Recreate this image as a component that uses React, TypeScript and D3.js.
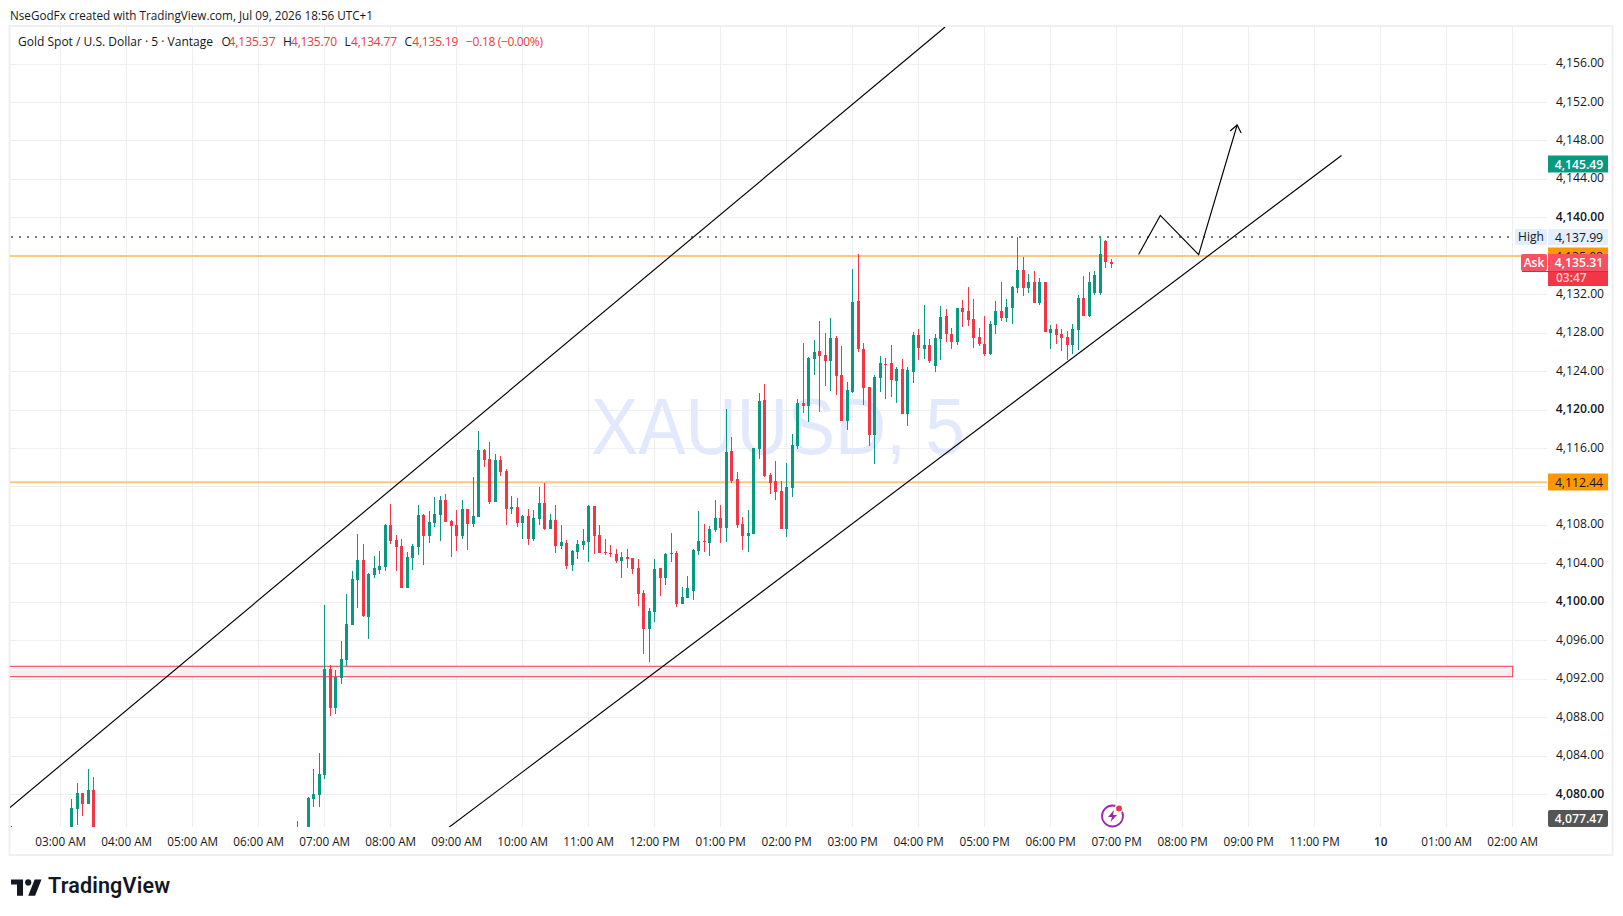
import React from 'react';
import * as d3 from 'd3';

// bar slots count 5 minute steps from 03:00 AM, -9 is the cut off wick at the left edge
const barSlots = [-9, 2, 3, 4, 5, 6, 43, ...d3.range(45, 192)];

const opens = [
  4075.5, 4076, 4078.45, 4080.11, 4078.96, 4080.42, 4075, 4076, 4079.48, 4079.9,
  4081.98, 4093.01, 4088.95, 4092.08, 4093.95, 4097.59, 4102.27, 4104.35, 4098.42, 4102.79, 4103.31, 4103.62,
  4107.99, 4106.43, 4105.81, 4101.43, 4104.56, 4105.7, 4109.03, 4106.84, 4108.2, 4109.03, 4110.59, 4108.4,
  4107.99, 4106.84, 4109.65, 4108.09, 4108.82, 4115.79, 4114.85, 4110.38, 4114.75, 4113.6, 4109.65, 4109.86,
  4108.2, 4108.92, 4106.53, 4108.61, 4110.28, 4107.57, 4108.51, 4105.81, 4106.12, 4103.83, 4105.18, 4105.91,
  4106.22, 4109.97, 4106.95, 4105.18, 4105.08, 4104.97, 4104.25, 4104.66, 4104.56, 4103.52, 4100.92, 4097.17,
  4098.94, 4103.52, 4102.48, 4104.97, 4105.08, 4099.77, 4100.39, 4101.12, 4105.29, 4106.33, 4106.12, 4107.47,
  4108.72, 4107.68, 4115.69, 4112.77, 4108.09, 4106.84, 4107.05, 4115.9, 4120.99, 4113.19, 4112.57, 4111.53,
  4107.57, 4111.84, 4116.21, 4120.68, 4120.37, 4125.26, 4126.1, 4125.68, 4125.06, 4127.45, 4123.6, 4118.81,
  4121.82, 4131.3, 4126.3, 4122.34, 4117.35, 4123.29, 4124.75, 4124.85, 4122.98, 4124.22, 4119.53, 4123.91,
  4127.76, 4126.3, 4126.72, 4124.53, 4127.34, 4129.74, 4127.86, 4127.03, 4130.56, 4130.26, 4129.42, 4127.55,
  4126.82, 4125.78, 4128.8, 4130.26, 4129.53, 4130.56, 4132.65, 4134.52, 4132.65, 4133.27, 4131.09, 4133.27,
  4127.97, 4128.38, 4127.86, 4127.55, 4126.72, 4128.28, 4131.61, 4129.74, 4132.13, 4132.13, 4137.54, 4135.37,
];

const highs = [
  4076.68, 4079.48, 4081.15, 4080.11, 4082.6, 4081.77, 4077.2, 4079.69, 4082.6, 4084.27,
  4099.67, 4093.43, 4092.91, 4095.93, 4100.81, 4103.21, 4107.05, 4106.01, 4103, 4104.77, 4105.29, 4108.09,
  4110.17, 4106.95, 4106.53, 4105.18, 4106.01, 4110.07, 4109.13, 4109.44, 4110.9, 4111.01, 4111.21, 4108.51,
  4109.55, 4110.59, 4109.65, 4112.98, 4117.77, 4115.9, 4116.63, 4115.38, 4115.17, 4113.81, 4111.01, 4110.8,
  4109.03, 4109.65, 4109.55, 4111.94, 4112.36, 4109.13, 4110.07, 4107.99, 4106.43, 4105.39, 4106.43, 4107.57,
  4110.07, 4109.97, 4107.99, 4106.53, 4105.91, 4105.49, 4105.18, 4105.49, 4104.56, 4104.45, 4101.23, 4099.36,
  4104.46, 4103.52, 4105.08, 4107.16, 4105.29, 4101.54, 4102.69, 4105.49, 4109.44, 4108.09, 4107.89, 4110.59,
  4110.07, 4120.05, 4117.14, 4113.5, 4108.82, 4109.55, 4116, 4121.72, 4122.66, 4113.4, 4114.65, 4112.57,
  4114.44, 4117.45, 4121.09, 4126.93, 4125.47, 4127.24, 4129.22, 4127.97, 4129.53, 4127.66, 4126.62, 4122.87,
  4134.62, 4136.18, 4126.93, 4122.34, 4123.6, 4125.58, 4125.37, 4126.72, 4124.43, 4125.26, 4124.43, 4128.07,
  4128.38, 4130.87, 4127.34, 4127.86, 4130.77, 4130.46, 4128.48, 4130.56, 4131.4, 4132.75, 4131.5, 4128.48,
  4129.74, 4129.22, 4131.3, 4133.27, 4131.5, 4132.85, 4137.99, 4135.87, 4134.1, 4134.41, 4133.69, 4133.27,
  4128.8, 4128.9, 4128.38, 4128.17, 4128.9, 4131.92, 4133.91, 4134.31, 4134.41, 4137.99, 4137.64, 4135.7,
];

const lows = [
  4075, 4075.5, 4076.78, 4077.72, 4078.96, 4075, 4074.8, 4075, 4078.65, 4078.65,
  4081.56, 4088.12, 4088.32, 4091.45, 4093.33, 4097.59, 4099.36, 4098.42, 4096.13, 4102.48, 4102.89, 4103.21,
  4106.01, 4103.21, 4101.43, 4101.43, 4103.31, 4104.87, 4103.83, 4106.12, 4107.78, 4106.33, 4108.3, 4104.66,
  4105.29, 4106.53, 4105.39, 4107.78, 4108.82, 4114.02, 4110.17, 4110.38, 4113.09, 4107.99, 4109.13, 4107.78,
  4106.53, 4105.91, 4106.33, 4107.99, 4107.47, 4107.57, 4105.08, 4105.49, 4103.41, 4103.21, 4104.46, 4105.39,
  4104.14, 4104.97, 4105.08, 4104.87, 4104.66, 4104.04, 4102.48, 4103.52, 4102.89, 4099.57, 4094.57, 4093.74,
  4097.9, 4100.6, 4101.75, 4104.14, 4099.46, 4099.77, 4100.39, 4100.19, 4104.87, 4105.18, 4104.77, 4107.26,
  4106.12, 4106.22, 4112.36, 4107.68, 4105.39, 4105.18, 4107.05, 4114.85, 4112.98, 4111.21, 4110.59, 4107.57,
  4106.74, 4110.9, 4115.9, 4119.64, 4118.7, 4123.6, 4119.74, 4122.45, 4121.93, 4121.51, 4118.81, 4117.87,
  4121.72, 4125.99, 4120.47, 4116.21, 4114.33, 4121.82, 4121.09, 4121.3, 4120.68, 4119.53, 4118.29, 4122.77,
  4125.16, 4125.26, 4124.85, 4123.91, 4125.16, 4127.03, 4126.3, 4126.72, 4128.59, 4128.69, 4126.41, 4126.62,
  4125.58, 4125.68, 4127.86, 4129.22, 4129.11, 4128.9, 4132.13, 4131.82, 4132.13, 4131.09, 4130.87, 4128.07,
  4126.3, 4126.82, 4126.1, 4125.16, 4125.78, 4126.2, 4129.74, 4129.63, 4131.92, 4131.92, 4134.73, 4134.77,
];

const closes = [
  4076, 4078.55, 4080.11, 4078.96, 4080.42, 4075.5, 4075.5, 4079.59, 4080, 4082.08,
  4093.01, 4088.95, 4092.18, 4094.05, 4097.69, 4102.37, 4104.35, 4098.52, 4102.89, 4103.52, 4103.73, 4107.99,
  4106.33, 4105.7, 4101.43, 4104.66, 4105.81, 4109.03, 4106.84, 4108.3, 4109.13, 4110.59, 4108.3, 4107.89,
  4106.84, 4109.65, 4108.09, 4108.92, 4115.79, 4114.75, 4110.38, 4114.75, 4113.5, 4109.65, 4109.86, 4108.2,
  4108.92, 4106.53, 4108.72, 4110.28, 4107.57, 4108.51, 4105.81, 4106.22, 4103.73, 4105.29, 4106.01, 4106.33,
  4109.97, 4106.84, 4105.08, 4105.08, 4104.97, 4104.25, 4104.66, 4104.45, 4103.41, 4100.81, 4097.17, 4099.04,
  4103.41, 4102.48, 4104.97, 4105.08, 4099.77, 4100.5, 4101.43, 4105.39, 4106.33, 4106.22, 4107.57, 4108.72,
  4107.68, 4115.58, 4112.57, 4107.99, 4106.84, 4107.16, 4116, 4120.89, 4113.09, 4112.36, 4111.42, 4107.57,
  4111.94, 4116.31, 4120.68, 4120.37, 4125.37, 4125.99, 4125.58, 4125.06, 4127.45, 4123.5, 4118.81, 4122.03,
  4131.19, 4126.3, 4122.24, 4117.35, 4123.39, 4124.85, 4124.64, 4123.08, 4124.22, 4119.53, 4124.12, 4127.76,
  4126.41, 4126.72, 4125.06, 4127.45, 4129.63, 4127.86, 4127.03, 4130.56, 4130.15, 4129.32, 4127.45, 4126.82,
  4125.78, 4128.9, 4130.26, 4129.53, 4130.67, 4132.75, 4134.52, 4132.65, 4133.27, 4131.09, 4133.27, 4128.07,
  4128.38, 4127.76, 4127.45, 4126.72, 4128.38, 4131.61, 4129.74, 4133.27, 4134, 4136.18, 4135.35, 4135.19,
];

const priceTicks = d3.range(4080, 4157, 4);
const boldPrices = [4080, 4100, 4120, 4140];
const hiddenPrices = [4112, 4136];

const timeTickSlots = [0, 12, 24, 36, 48, 60, 72, 84, 96, 108, 120, 132, 144, 156, 168, 180, 192, 204, 216, 228, 240, 252, 264];
const timeTickLabels = [
  '03:00 AM', '04:00 AM', '05:00 AM', '06:00 AM', '07:00 AM', '08:00 AM', '09:00 AM', '10:00 AM',
  '11:00 AM', '12:00 PM', '01:00 PM', '02:00 PM', '03:00 PM', '04:00 PM', '05:00 PM', '06:00 PM',
  '07:00 PM', '08:00 PM', '09:00 PM', '11:00 PM', '10', '01:00 AM', '02:00 AM',
];

// hand drawn lines, [bar slot, price]
const upperChannel: [number, number][] = [[-9.22, 4078.6], [160.8, 4159.8]];
const lowerChannel: [number, number][] = [[70.42, 4076.46], [232.87, 4146.43]];
const forecastPath: [number, number][] = [[195.98, 4136.12], [199.93, 4140.2], [206.9, 4136.12], [213.9, 4149.6]];

const resistanceLevel = 4135.98;
const supportLevel = 4112.44;
const highLevel = 4137.99;
const zoneTop = 4093.29;
const zoneBottom = 4092.2;
const zoneEndSlot = 264;

const UP = '#089981';
const DOWN = '#f23645';
const GRID = '#eeeff1';
const FONT = '"Open Sans", "Noto Sans", sans-serif';

const W = 1623;
const H = 916;
const plot = { left: 10, right: 1547, top: 27, bottom: 827 };

const x = d3.scaleLinear().domain([0, 264]).range([60.7, 1512.7]);
const y = d3.scaleLinear().domain([4080, 4156]).range([794, 63.5]);
const trendLine = d3.line<[number, number]>().x(d => x(d[0])).y(d => y(d[1]));

const PriceTag = ({ top, height, fill, text, color = '#fff', rx = 0, weight = 600 }: any) => (
  <g>
    <rect x={1548} y={top} width={60} height={height} fill={fill} rx={rx} />
    <text x={1579} y={top + height / 2 + 4.5} textAnchor="middle" fontSize={12.2} fontWeight={weight} fill={color}>{text}</text>
  </g>
);

const App = () => {
  const tip = forecastPath[forecastPath.length - 1];
  const tipX = x(tip[0]);
  const tipY = y(tip[1]);

  return (
    <svg width={W} height={H} style={{ position: 'absolute', left: 0, top: 0, background: '#fff' }} fontFamily={FONT}>
      <defs>
        <clipPath id="plot-clip">
          <rect x={plot.left} y={plot.top} width={plot.right - plot.left} height={plot.bottom - plot.top} />
        </clipPath>
      </defs>

      {/* frame */}
      <rect x={9.5} y={26} width={1603} height={829} fill="none" stroke="#f0f0f0" strokeWidth={2} />

      {/* grid */}
      <g shapeRendering="crispEdges" stroke={GRID}>
        {priceTicks.map(p => <line key={p} x1={plot.left} x2={plot.right} y1={Math.round(y(p))} y2={Math.round(y(p))} />)}
        {timeTickSlots.map(s => <line key={s} x1={Math.floor(x(s))} x2={Math.floor(x(s))} y1={plot.top} y2={plot.bottom} />)}
      </g>

      {/* watermark */}
      <text x={591} y={454} fontSize={80} fontFamily="Liberation Sans" fill="#e3e9fc" textLength={374} lengthAdjust="spacingAndGlyphs">XAUUSD, 5</text>

      <g clipPath="url(#plot-clip)">
        {/* demand zone */}
        <rect x={plot.left - 2} y={y(zoneTop)} width={x(zoneEndSlot) - plot.left + 2} height={y(zoneBottom) - y(zoneTop)} fill="#f6f0f1" stroke={DOWN} strokeWidth={1} />

        {/* levels */}
        <line x1={plot.left} x2={plot.right} y1={y(resistanceLevel)} y2={y(resistanceLevel)} stroke="#fbc87c" strokeWidth={2} />
        <line x1={plot.left} x2={plot.right} y1={y(supportLevel)} y2={y(supportLevel)} stroke="#fbc87c" strokeWidth={2} />
        <line x1={plot.left + 1} x2={1515} y1={Math.round(y(highLevel))} y2={Math.round(y(highLevel))} stroke="#787b80" strokeWidth={2} strokeDasharray="2 6" />

        {/* candles */}
        <g shapeRendering="crispEdges">
          {barSlots.map((slot, i) => {
            const fill = closes[i] >= opens[i] ? UP : DOWN;
            const px = Math.floor(x(slot));
            const bodyTop = Math.round(y(Math.max(opens[i], closes[i])));
            const bodyBottom = Math.round(y(Math.min(opens[i], closes[i])));
            return (
              <g key={slot} fill={fill}>
                <rect x={px} y={y(highs[i])} width={1} height={y(lows[i]) - y(highs[i])} />
                <rect x={px - 1} y={bodyTop} width={3} height={Math.max(1, bodyBottom - bodyTop)} />
              </g>
            );
          })}
        </g>

        {/* channel + forecast */}
        <g fill="none" stroke="#000" strokeWidth={1.15}>
          <path d={trendLine(upperChannel) ?? ''} />
          <path d={trendLine(lowerChannel) ?? ''} />
          <path d={trendLine(forecastPath) ?? ''} />
          <path d={`M${tipX - 7},${tipY + 6} L${tipX},${tipY} L${tipX + 4},${tipY + 8}`} />
        </g>
      </g>

      {/* header */}
      <text x={10} y={20} fontSize={12} fill="#131722" textLength={363} lengthAdjust="spacingAndGlyphs">NseGodFx created with TradingView.com, Jul 09, 2026 18:56 UTC+1</text>
      <g fontSize={12} fill="#131722">
        <text x={18} y={46} textLength={195} lengthAdjust="spacingAndGlyphs">Gold Spot / U.S. Dollar · 5 · Vantage</text>
        <text x={221.5} y={46}>O</text>
        <text x={228.5} y={46} fill={DOWN} textLength={47}>4,135.37</text>
        <text x={283} y={46}>H</text>
        <text x={291} y={46} fill={DOWN} textLength={46}>4,135.70</text>
        <text x={344.5} y={46}>L</text>
        <text x={351} y={46} fill={DOWN} textLength={46}>4,134.77</text>
        <text x={404.5} y={46}>C</text>
        <text x={412.3} y={46} fill={DOWN} textLength={46}>4,135.19</text>
        <text x={466} y={46} fill={DOWN} textLength={77}>−0.18 (−0.00%)</text>
      </g>

      {/* price axis */}
      <g fontSize={12.2} fill="#131722" textAnchor="middle">
        {priceTicks.filter(p => !hiddenPrices.includes(p)).map(p => (
          <text key={p} x={1580} y={y(p) + 3.6} fontWeight={boldPrices.includes(p) ? 600 : 400}>{d3.format(',.2f')(p)}</text>
        ))}
      </g>

      <PriceTag top={155.5} height={17} fill={UP} text="4,145.49" />
      <rect x={1515} y={229} width={32} height={16} fill="#e3effd" rx={2} />
      <text x={1531} y={241} fontSize={12} fill="#131722" textAnchor="middle">High</text>
      <PriceTag top={229} height={16} fill="#e3effd" text="4,137.99" color="#131722" weight={400} />
      <PriceTag top={247.5} height={17} fill="#ff9800" text="4,135.98" color="#131722" weight={400} />
      <rect x={1521} y={254} width={26} height={17} fill="#f7525f" rx={2} />
      <text x={1534} y={267} fontSize={12} fontWeight={600} fill="#fff" textAnchor="middle">Ask</text>
      <PriceTag top={254} height={17} fill="#f7525f" text="4,135.31" />
      <line x1={1522} x2={1608} y1={271.5} y2={271.5} stroke="#3f5bd0" strokeWidth={1} />
      <rect x={1548} y={272} width={60} height={14} fill={DOWN} />
      <text x={1556} y={281.5} fontSize={12} fontWeight={600} fill="#ffd3d7">03:47</text>
      <PriceTag top={473.5} height={17} fill="#ff9800" text="4,112.44" color="#131722" weight={400} />
      <PriceTag top={810} height={17} fill="#555" text="4,077.47" rx={2} />

      {/* time axis */}
      <g fontSize={11.7} fill="#131722" textAnchor="middle">
        {timeTickSlots.map((s, i) => (
          <text key={s} x={x(s)} y={846} fontWeight={timeTickLabels[i] === '10' ? 600 : 400}>{timeTickLabels[i]}</text>
        ))}
      </g>

      {/* flash icon */}
      <g>
        <circle cx={1112.5} cy={816} r={10.5} fill="none" stroke="#9c27b0" strokeWidth={1.8} />
        <path d="M1114,810 L1108,817 L1112,817 L1110.5,822 L1117,815 L1113,815 Z" fill="#9c27b0" />
        <circle cx={1119} cy={808.5} r={4.5} fill="#fff" />
        <circle cx={1119} cy={808.5} r={3} fill={DOWN} />
      </g>

      {/* logo */}
      <g transform="translate(11,876) scale(0.86)" fill="#131722">
        <path d="M14 23H7V10H0V4h14v19zM28 23h-8l7.5-19h8L28 23z" />
        <circle cx={20} cy={7.5} r={3.6} />
      </g>
      <text x={48} y={893} fontSize={21.5} fontWeight={600} fontFamily="Roboto" fill="#131722" textLength={122}>TradingView</text>
    </svg>
  );
};

export default App;
